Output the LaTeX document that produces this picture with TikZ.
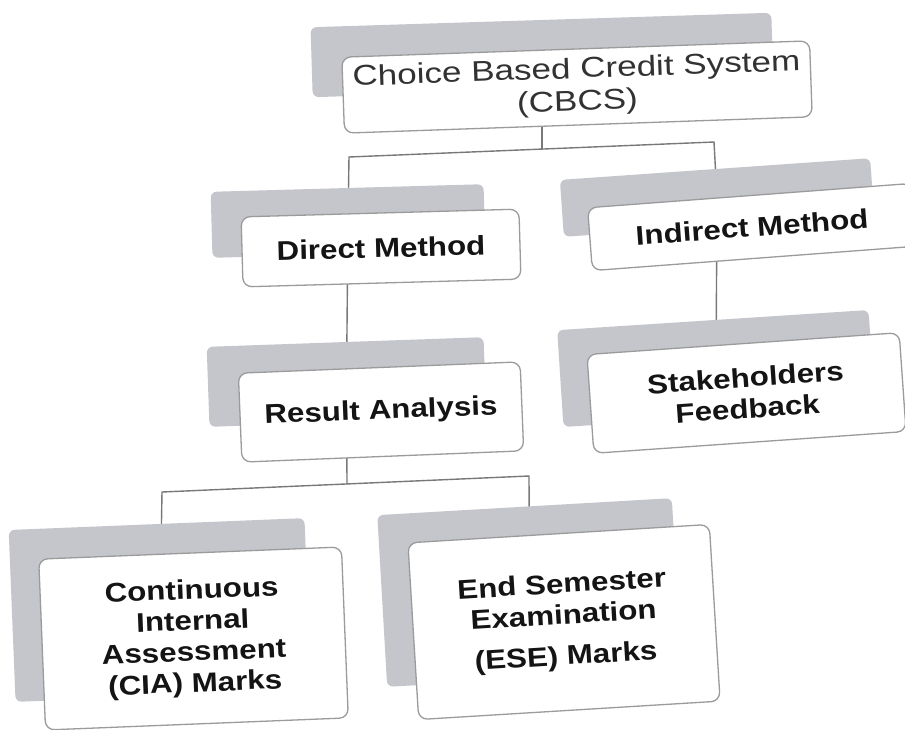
\documentclass[tikz,border=0pt]{standalone}
\usepackage{fontspec}
\setmainfont{Liberation Sans}
\usetikzlibrary{backgrounds}
\definecolor{shadegray}{RGB}{196,198,203}
\definecolor{edgegray}{RGB}{155,155,155}
\definecolor{linegray}{RGB}{120,120,120}
\definecolor{inkblack}{RGB}{20,20,20}
\definecolor{inkgray}{RGB}{50,50,50}
\newcommand{\boldlabel}{\bfseries\fontsize{27}{31}\selectfont\addfontfeature{FakeStretch=1.16}}
\begin{document}
\begin{tikzpicture}[x=1pt,y=-1pt,
  backbox/.style={fill=shadegray, draw=none, rounded corners=6pt, inner sep=0pt, outer sep=0pt},
  frontbox/.style={fill=white, draw=edgegray, line width=1.3pt, rounded corners=9pt, inner sep=0pt, outer sep=0pt, align=center, text=inkblack, font=\boldlabel},
  link/.style={draw=linegray, line width=1.4pt}]
\useasboundingbox (0,0) rectangle (905,729);

% top
\node[backbox, minimum width=461pt, minimum height=70pt, rotate=1.8] (topS) at (542,55) {};
\node[frontbox, minimum width=468pt, minimum height=76pt, rotate=2, text=inkgray,
      font=\mdseries\fontsize{28.5}{32.5}\selectfont\addfontfeature{FakeStretch=1.23}] (top) at (577,87) {Choice Based Credit System\\(CBCS)};

% direct
\node[backbox, minimum width=273pt, minimum height=66pt, rotate=1.6] (dirS) at (348,221) {};
\node[frontbox, minimum width=278pt, minimum height=70pt, rotate=1.6] (dir) at (381,248) {Direct Method};

% indirect
\node[backbox, minimum width=311pt, minimum height=57pt, rotate=4] (indS) at (717,197.5) {};
\node[frontbox, minimum width=325pt, minimum height=63pt, rotate=4.3] (ind) at (752,227) {Indirect Method};

% result
\node[backbox, minimum width=277pt, minimum height=80pt, rotate=2] (resS) at (346.5,382) {};
\node[frontbox, minimum width=282pt, minimum height=89pt, rotate=2.3] (res) at (381,412) {Result Analysis};

% stakeholders
\node[backbox, minimum width=312pt, minimum height=97pt, rotate=3.7] (stkS) at (716,368.5) {};
\node[frontbox, minimum width=313pt, minimum height=99pt, rotate=4] (stk) at (746.5,393) {Stakeholders\\Feedback};

% CIA
\node[backbox, minimum width=296pt, minimum height=172pt, rotate=2.3] (ciaS) at (160,610) {};
\node[frontbox, minimum width=303pt, minimum height=171pt, rotate=2.3] (cia) at (193.5,638.5) {Continuous\\Internal\\Assessment\\(CIA) Marks};

% ESE
\node[backbox, minimum width=295pt, minimum height=172pt, rotate=3.3] (eseS) at (529.5,592.5) {};
\node[frontbox, minimum width=302pt, minimum height=177pt, rotate=3.5] (ese) at (564,622) {End Semester\\Examination\\[10pt](ESE) Marks};

% junctions
\coordinate (tj) at (542,149);
\coordinate (tjL) at (349,157);
\coordinate (tjR) at (714,142);
\coordinate (bj) at (347,484);
\coordinate (bjL) at (162,492);
\coordinate (bjR) at (529,476);

\begin{scope}[on background layer]
\fill[white] (0,0) rectangle (905,729);
\draw[link] (topS.center) -- (tj);
\draw[link] (dirS.center) -- (tjL) -- (tjR) -- (indS.center);
\draw[link] (dirS.center) -- (resS.center);
\draw[link] (indS.center) -- (stkS.center);
\draw[link] (resS.center) -- (bj);
\draw[link] (ciaS.center) -- (bjL) -- (bjR) -- (eseS.center);
\end{scope}
\end{tikzpicture}
\end{document}
